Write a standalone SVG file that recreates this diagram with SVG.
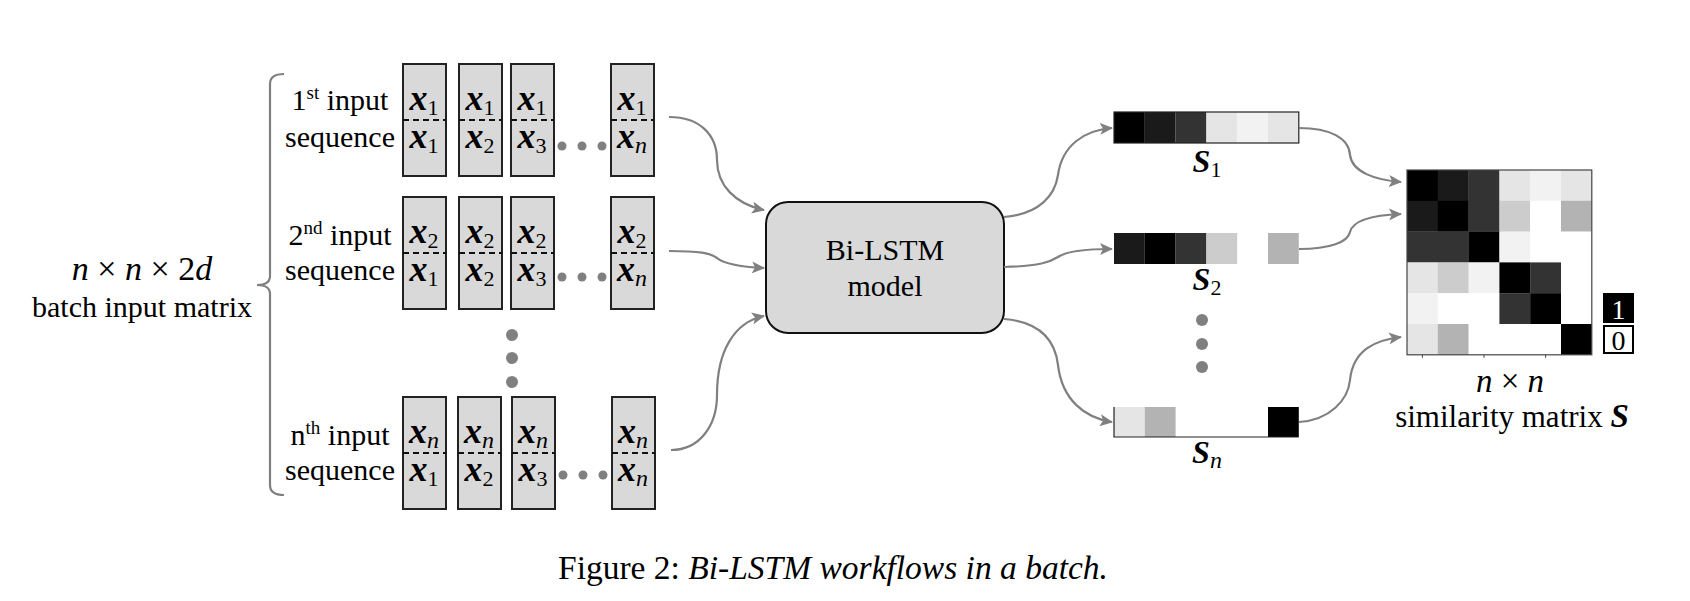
<svg xmlns="http://www.w3.org/2000/svg" width="1690" height="601" viewBox="0 0 1690 601">
<style>
text{font-family:"Liberation Serif","Times New Roman",serif;fill:#000}
.lbl{font-size:30px;text-anchor:middle}
.sup{font-size:19px}
.mx{font-size:36px;font-weight:bold;font-style:italic;text-anchor:middle}
.sub{font-size:22px;font-weight:normal;font-style:normal}
.subi{font-size:24px;font-weight:normal;font-style:italic}
.cell{fill:#d9d9d9;stroke:#222;stroke-width:2}
.div{stroke:#111;stroke-width:2.2;stroke-dasharray:6 4}
.dot{fill:#808080}
.conn{fill:none;stroke:#808080;stroke-width:2.2;marker-end:url(#ah)}
.it{font-style:italic}
</style>
<defs>
<marker id="ah" markerUnits="userSpaceOnUse" markerWidth="14" markerHeight="12" refX="12" refY="6" orient="auto">
<path d="M0,0 L13,6 L0,12 L3,6 Z" fill="#808080"/>
</marker>
</defs>
<rect width="1690" height="601" fill="#fff"/>

<g id="batch-label">
<text class="lbl" x="142" y="280" style="font-size:34px"><tspan class="it">n</tspan> × <tspan class="it">n</tspan> × 2<tspan class="it">d</tspan></text>
<text class="lbl" x="142" y="317">batch input matrix</text>
<path d="M284,74 Q270,74 270,84 L270,276 Q270,285 257,285 Q270,285 270,294 L270,485 Q270,495 284,495" fill="none" stroke="#808080" stroke-width="2.2"/>
</g>

<g id="seq1">
<text class="lbl" x="340" y="110">1<tspan class="sup" dy="-11">st</tspan><tspan dy="11"> input</tspan></text>
<text class="lbl" x="340" y="147">sequence</text>
<rect class="cell" x="403" y="64" width="43" height="112"/>
<rect class="cell" x="459" y="64" width="43" height="112"/>
<rect class="cell" x="511" y="64" width="43" height="112"/>
<rect class="cell" x="611" y="64" width="43" height="112"/>
<line class="div" x1="403" y1="120" x2="446" y2="120"/>
<line class="div" x1="459" y1="120" x2="502" y2="120"/>
<line class="div" x1="511" y1="120" x2="554" y2="120"/>
<line class="div" x1="611" y1="120" x2="654" y2="120"/>
<text class="mx" x="424" y="110">x<tspan class="sub" dy="5">1</tspan></text>
<text class="mx" x="480" y="110">x<tspan class="sub" dy="5">1</tspan></text>
<text class="mx" x="532" y="110">x<tspan class="sub" dy="5">1</tspan></text>
<text class="mx" x="632" y="110">x<tspan class="sub" dy="5">1</tspan></text>
<text class="mx" x="424" y="148">x<tspan class="sub" dy="5">1</tspan></text>
<text class="mx" x="480" y="148">x<tspan class="sub" dy="5">2</tspan></text>
<text class="mx" x="532" y="148">x<tspan class="sub" dy="5">3</tspan></text>
<text class="mx" x="632" y="148">x<tspan class="subi" dy="5">n</tspan></text>
<circle class="dot" cx="562" cy="146" r="4.5"/><circle class="dot" cx="582" cy="146" r="4.5"/><circle class="dot" cx="602" cy="146" r="4.5"/>
</g>

<g id="seq2">
<text class="lbl" x="340" y="245">2<tspan class="sup" dy="-11">nd</tspan><tspan dy="11"> input</tspan></text>
<text class="lbl" x="340" y="280">sequence</text>
<rect class="cell" x="403" y="197" width="43" height="112"/>
<rect class="cell" x="459" y="197" width="43" height="112"/>
<rect class="cell" x="511" y="197" width="43" height="112"/>
<rect class="cell" x="611" y="197" width="43" height="112"/>
<line class="div" x1="403" y1="253" x2="446" y2="253"/>
<line class="div" x1="459" y1="253" x2="502" y2="253"/>
<line class="div" x1="511" y1="253" x2="554" y2="253"/>
<line class="div" x1="611" y1="253" x2="654" y2="253"/>
<text class="mx" x="424" y="243">x<tspan class="sub" dy="5">2</tspan></text>
<text class="mx" x="480" y="243">x<tspan class="sub" dy="5">2</tspan></text>
<text class="mx" x="532" y="243">x<tspan class="sub" dy="5">2</tspan></text>
<text class="mx" x="632" y="243">x<tspan class="sub" dy="5">2</tspan></text>
<text class="mx" x="424" y="281">x<tspan class="sub" dy="5">1</tspan></text>
<text class="mx" x="480" y="281">x<tspan class="sub" dy="5">2</tspan></text>
<text class="mx" x="532" y="281">x<tspan class="sub" dy="5">3</tspan></text>
<text class="mx" x="632" y="281">x<tspan class="subi" dy="5">n</tspan></text>
<circle class="dot" cx="562" cy="277" r="4.5"/><circle class="dot" cx="582" cy="277" r="4.5"/><circle class="dot" cx="602" cy="277" r="4.5"/>
</g>

<g id="vdots-seq">
<circle class="dot" cx="512" cy="335" r="6"/><circle class="dot" cx="512" cy="358" r="6"/><circle class="dot" cx="512" cy="382" r="6"/>
</g>

<g id="seqn">
<text class="lbl" x="340" y="445">n<tspan class="sup" dy="-11">th</tspan><tspan dy="11"> input</tspan></text>
<text class="lbl" x="340" y="480">sequence</text>
<rect class="cell" x="403" y="397" width="43" height="112"/>
<rect class="cell" x="458" y="397" width="43" height="112"/>
<rect class="cell" x="512" y="397" width="43" height="112"/>
<rect class="cell" x="612" y="397" width="43" height="112"/>
<line class="div" x1="403" y1="453" x2="446" y2="453"/>
<line class="div" x1="458" y1="453" x2="501" y2="453"/>
<line class="div" x1="512" y1="453" x2="555" y2="453"/>
<line class="div" x1="612" y1="453" x2="655" y2="453"/>
<text class="mx" x="424" y="443">x<tspan class="subi" dy="5">n</tspan></text>
<text class="mx" x="479" y="443">x<tspan class="subi" dy="5">n</tspan></text>
<text class="mx" x="533" y="443">x<tspan class="subi" dy="5">n</tspan></text>
<text class="mx" x="633" y="443">x<tspan class="subi" dy="5">n</tspan></text>
<text class="mx" x="424" y="481">x<tspan class="sub" dy="5">1</tspan></text>
<text class="mx" x="479" y="481">x<tspan class="sub" dy="5">2</tspan></text>
<text class="mx" x="533" y="481">x<tspan class="sub" dy="5">3</tspan></text>
<text class="mx" x="633" y="481">x<tspan class="subi" dy="5">n</tspan></text>
<circle class="dot" cx="563" cy="475" r="4.5"/><circle class="dot" cx="583" cy="475" r="4.5"/><circle class="dot" cx="603" cy="475" r="4.5"/>
</g>

<g id="bilstm">
<rect x="766" y="202" width="238" height="131" rx="22" fill="#d9d9d9" stroke="#111" stroke-width="2"/>
<text class="lbl" x="885" y="260">Bi-LSTM</text>
<text class="lbl" x="885" y="296">model</text>
</g>

<g id="s1">
<rect x="1114" y="112" width="30.8" height="31" fill="#000"/>
<rect x="1144.8" y="112" width="30.8" height="31" fill="#1a1a1a"/>
<rect x="1175.6" y="112" width="30.8" height="31" fill="#333"/>
<rect x="1206.4" y="112" width="30.8" height="31" fill="#e5e5e5"/>
<rect x="1237.2" y="112" width="30.8" height="31" fill="#f2f2f2"/>
<rect x="1268" y="112" width="30.8" height="31" fill="#e5e5e5"/>
<rect x="1114" y="112" width="184.8" height="31" fill="none" stroke="#222" stroke-width="1.2"/>
<text class="mx" x="1207" y="172" style="font-size:32px">S<tspan class="sub" dy="5">1</tspan></text>
</g>

<g id="s2">
<rect x="1114" y="233" width="30.8" height="31" fill="#1a1a1a"/>
<rect x="1144.8" y="233" width="30.8" height="31" fill="#000"/>
<rect x="1175.6" y="233" width="30.8" height="31" fill="#333"/>
<rect x="1206.4" y="233" width="30.8" height="31" fill="#ccc"/>
<rect x="1268" y="233" width="30.8" height="31" fill="#b3b3b3"/>
<text class="mx" x="1207" y="290" style="font-size:32px">S<tspan class="sub" dy="5">2</tspan></text>
</g>

<g id="vdots-s">
<circle class="dot" cx="1202" cy="320" r="6"/><circle class="dot" cx="1202" cy="344" r="6"/><circle class="dot" cx="1202" cy="367" r="6"/>
</g>

<g id="sn">
<rect x="1114" y="407" width="30.8" height="30" fill="#e5e5e5"/>
<rect x="1144.8" y="407" width="30.8" height="30" fill="#b3b3b3"/>
<rect x="1268" y="407" width="30.8" height="30" fill="#000"/>
<path d="M1114,407 L1114,437 L1298.8,437" fill="none" stroke="#222" stroke-width="1.2"/>
<text class="mx" x="1207" y="463" style="font-size:32px">S<tspan class="subi" dy="5">n</tspan></text>
</g>

<g id="matrix">
<g transform="translate(1407,170)">
<rect x="0" y="0" width="31" height="31" fill="#000"/><rect x="30.8" y="0" width="31" height="31" fill="#1a1a1a"/><rect x="61.6" y="0" width="31" height="31" fill="#333"/><rect x="92.4" y="0" width="31" height="31" fill="#e5e5e5"/><rect x="123.2" y="0" width="31" height="31" fill="#f2f2f2"/><rect x="154" y="0" width="30.8" height="31" fill="#e5e5e5"/>
<rect x="0" y="30.8" width="31" height="31" fill="#1a1a1a"/><rect x="30.8" y="30.8" width="31" height="31" fill="#000"/><rect x="61.6" y="30.8" width="31" height="31" fill="#333"/><rect x="92.4" y="30.8" width="31" height="31" fill="#ccc"/><rect x="123.2" y="30.8" width="31" height="31" fill="#fff"/><rect x="154" y="30.8" width="30.8" height="31" fill="#b3b3b3"/>
<rect x="0" y="61.6" width="31" height="31" fill="#333"/><rect x="30.8" y="61.6" width="31" height="31" fill="#333"/><rect x="61.6" y="61.6" width="31" height="31" fill="#000"/><rect x="92.4" y="61.6" width="31" height="31" fill="#f2f2f2"/><rect x="123.2" y="61.6" width="31" height="31" fill="#fff"/><rect x="154" y="61.6" width="30.8" height="31" fill="#fff"/>
<rect x="0" y="92.4" width="31" height="31" fill="#e5e5e5"/><rect x="30.8" y="92.4" width="31" height="31" fill="#ccc"/><rect x="61.6" y="92.4" width="31" height="31" fill="#f2f2f2"/><rect x="92.4" y="92.4" width="31" height="31" fill="#000"/><rect x="123.2" y="92.4" width="31" height="31" fill="#333"/><rect x="154" y="92.4" width="30.8" height="31" fill="#fff"/>
<rect x="0" y="123.2" width="31" height="31" fill="#f2f2f2"/><rect x="30.8" y="123.2" width="31" height="31" fill="#fff"/><rect x="61.6" y="123.2" width="31" height="31" fill="#fff"/><rect x="92.4" y="123.2" width="31" height="31" fill="#333"/><rect x="123.2" y="123.2" width="31" height="31" fill="#000"/><rect x="154" y="123.2" width="30.8" height="31" fill="#fff"/>
<rect x="0" y="154" width="31" height="30.8" fill="#e5e5e5"/><rect x="30.8" y="154" width="31" height="30.8" fill="#b3b3b3"/><rect x="61.6" y="154" width="31" height="30.8" fill="#fff"/><rect x="92.4" y="154" width="31" height="30.8" fill="#fff"/><rect x="123.2" y="154" width="31" height="30.8" fill="#fff"/><rect x="154" y="154" width="30.8" height="30.8" fill="#000"/>
<rect x="0" y="0" width="184.8" height="184.8" fill="none" stroke="#444" stroke-width="1.2"/>
<path d="M15.4,184.8 v3 M77,184.8 v3 M138.6,184.8 v3" stroke="#444" stroke-width="1"/>
</g>
<text class="lbl" x="1510" y="392" style="font-size:33px"><tspan class="it">n</tspan> × <tspan class="it">n</tspan></text>
<text class="lbl" x="1512" y="427" style="font-size:31px">similarity matrix <tspan style="font-weight:bold;font-style:italic;font-size:33px">S</tspan></text>
</g>

<g id="legend">
<rect x="1603" y="293" width="31" height="30" fill="#000"/>
<text x="1618.5" y="319" style="font-size:28px;text-anchor:middle;fill:#fff">1</text>
<rect x="1604" y="326" width="29" height="27" fill="#fff" stroke="#000" stroke-width="2"/>
<text x="1618.5" y="350" style="font-size:28px;text-anchor:middle">0</text>
</g>

<g id="connectors">
<path class="conn" d="M669,117 C700,117 717,135 717,160 C717,185 735,204 764,210"/>
<path class="conn" d="M669,251 C700,251 710,253 717,258 C725,265 745,267 764,268"/>
<path class="conn" d="M671,450 C700,450 717,425 717,395 C717,350 735,322 764,316"/>
<path class="conn" d="M1004,217 C1040,214 1055,195 1058,175 C1062,145 1085,130 1112,128"/>
<path class="conn" d="M1004,267 C1040,266 1050,262 1058,257 C1068,250 1090,249 1112,249"/>
<path class="conn" d="M1004,319 C1040,322 1055,340 1058,365 C1062,400 1085,418 1112,422"/>
<path class="conn" d="M1299,128 C1330,128 1349,138 1350,155 C1352,172 1375,180 1401,182"/>
<path class="conn" d="M1299,249 C1330,249 1348,242 1350,232 C1353,220 1375,215 1401,214"/>
<path class="conn" d="M1299,422 C1330,420 1348,400 1350,380 C1353,350 1375,340 1401,337"/>
</g>

<g id="caption">
<text x="558" y="579" style="font-size:33.5px">Figure 2: <tspan class="it">Bi-LSTM workflows in a batch.</tspan></text>
</g>
</svg>
